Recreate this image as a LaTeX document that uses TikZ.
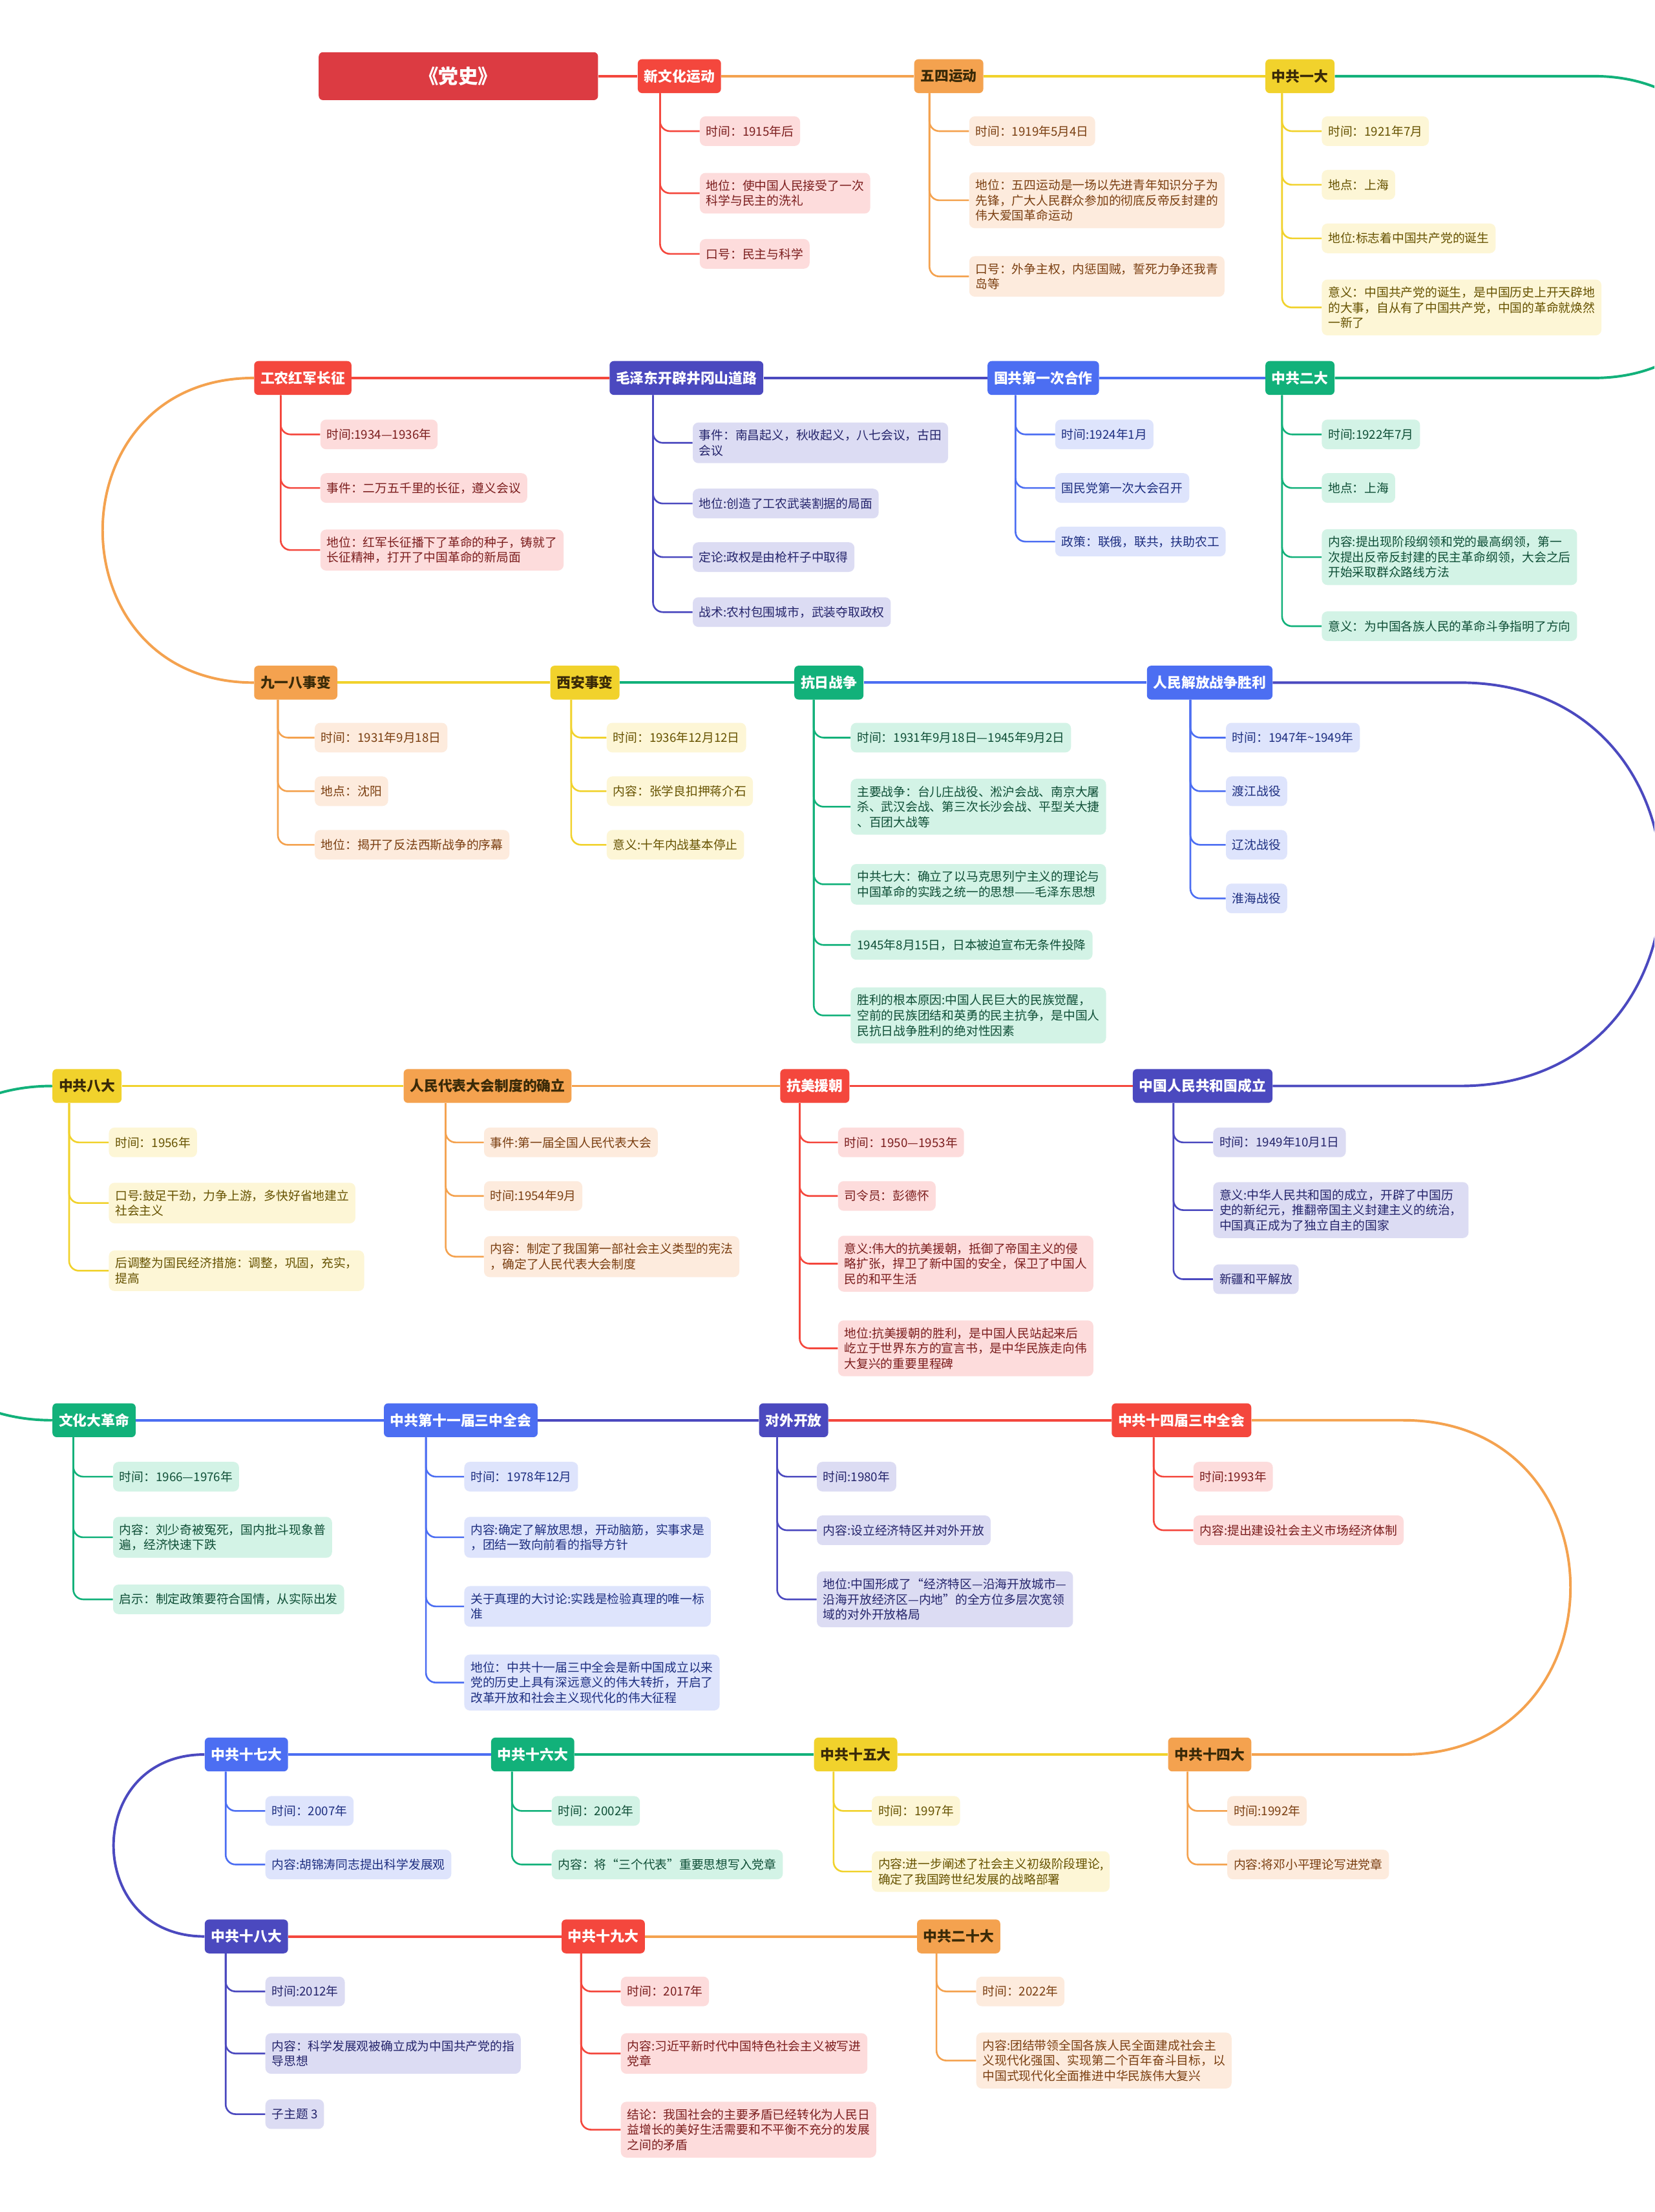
\documentclass[tikz,border=0pt]{standalone}
\usepackage{fontspec}
\setmainfont{Noto Sans CJK SC}
\usepackage{xcolor}

% colour families
\definecolor{cRoot}{HTML}{DC3B42}
\definecolor{cRed}{HTML}{F4473D}
\definecolor{cOrange}{HTML}{F4A24F}
\definecolor{cYellow}{HTML}{F1D22C}
\definecolor{cGreen}{HTML}{12B17A}
\definecolor{cBlue}{HTML}{4C6EF2}
\definecolor{cIndigo}{HTML}{4B49BF}
\definecolor{lRed}{HTML}{FDDCDC}
\definecolor{lOrange}{HTML}{FDEBDD}
\definecolor{lYellow}{HTML}{FDF6D6}
\definecolor{lGreen}{HTML}{D3F3E6}
\definecolor{lBlue}{HTML}{DEE4FC}
\definecolor{lIndigo}{HTML}{DCDCF3}
\definecolor{dRed}{HTML}{7B1D1D}
\definecolor{dOrange}{HTML}{7A3E10}
\definecolor{dYellow}{HTML}{665200}
\definecolor{dGreen}{HTML}{0E4E36}
\definecolor{dBlue}{HTML}{1D2E80}
\definecolor{dIndigo}{HTML}{24246B}
\definecolor{tDark}{HTML}{3A2A08}

\tikzset{
  rootbox/.style={rounded corners=3pt, fill=cRoot, text=white, minimum width=198pt, minimum height=34pt, font=\bfseries\fontsize{14}{16}\selectfont},
  topic/.style={rounded corners=3pt, anchor=west, minimum height=24pt, inner xsep=4.5pt, inner ysep=0pt, font=\bfseries\fontsize{10}{12}\selectfont},
  leaf/.style={rounded corners=4pt, anchor=west, align=left, inner xsep=4.5pt, inner ysep=5pt, minimum height=21pt, font=\fontsize{8.6}{10.8}\selectfont},
  link/.style={line width=1.8pt},
  twig/.style={line width=1.2pt, rounded corners=7pt},
  redT/.style={topic, fill=cRed, text=white},
  orangeT/.style={topic, fill=cOrange, text=tDark},
  yellowT/.style={topic, fill=cYellow, text=tDark},
  greenT/.style={topic, fill=cGreen, text=white},
  blueT/.style={topic, fill=cBlue, text=white},
  indigoT/.style={topic, fill=cIndigo, text=white},
  redL/.style={leaf, fill=lRed, text=dRed},
  orangeL/.style={leaf, fill=lOrange, text=dOrange},
  yellowL/.style={leaf, fill=lYellow, text=dYellow},
  greenL/.style={leaf, fill=lGreen, text=dGreen},
  blueL/.style={leaf, fill=lBlue, text=dBlue},
  indigoL/.style={leaf, fill=lIndigo, text=dIndigo}
}

\begin{document}
\begin{tikzpicture}[x=1pt, y=-1pt]
  \fill[white] (0,0) rectangle (1173,1568.4);
  \clip (0,0) rectangle (1173,1568.4);

  % Row 1
  \node[rootbox] (root) at (325,54) {《党史》};
  \node[redT] (xwh) at (452,54) {新文化运动};
  \node[orangeT] (wusi) at (648,54) {五四运动};
  \node[yellowT] (yida) at (897,54) {中共一大};

  \node[redL] (xwh-1) at (496,93) {时间：1915年后};
  \node[redL] (xwh-2) at (496,137) {地位：使中国人民接受了一次\\科学与民主的洗礼};
  \node[redL] (xwh-3) at (496,180) {口号：民主与科学};

  \node[orangeL] (wusi-1) at (687,93) {时间：1919年5月4日};
  \node[orangeL] (wusi-2) at (687,142) {地位：五四运动是一场以先进青年知识分子为\\先锋，广大人民群众参加的彻底反帝反封建的\\伟大爱国革命运动};
  \node[orangeL] (wusi-3) at (687,196) {口号：外争主权，内惩国贼，誓死力争还我青\\岛等};

  \node[yellowL] (yida-1) at (937,93) {时间：1921年7月};
  \node[yellowL] (yida-2) at (937,131) {地点：上海};
  \node[yellowL] (yida-3) at (937,169) {地位:标志着中国共产党的诞生};
  \node[yellowL] (yida-4) at (937,218) {意义：中国共产党的诞生，是中国历史上开天辟地\\的大事，自从有了中国共产党，中国的革命就焕然\\一新了};

  % Row 2
  \node[redT] (gn) at (180,268) {工农红军长征};
  \node[indigoT] (mao) at (432,268) {毛泽东开辟井冈山道路};
  \node[blueT] (gg) at (700,268) {国共第一次合作};
  \node[greenT] (erda) at (897,268) {中共二大};

  \node[redL] (gn-1) at (227,308) {时间:1934—1936年};
  \node[redL] (gn-2) at (227,346) {事件：二万五千里的长征，遵义会议};
  \node[redL] (gn-3) at (227,390) {地位：红军长征播下了革命的种子，铸就了\\长征精神，打开了中国革命的新局面};

  \node[indigoL] (mao-1) at (491,314) {事件：南昌起义，秋收起义，八七会议，古田\\会议};
  \node[indigoL] (mao-2) at (491,357) {地位:创造了工农武装割据的局面};
  \node[indigoL] (mao-3) at (491,395) {定论:政权是由枪杆子中取得};
  \node[indigoL] (mao-4) at (491,434) {战术:农村包围城市，武装夺取政权};

  \node[blueL] (gg-1) at (748,308) {时间:1924年1月};
  \node[blueL] (gg-2) at (748,346) {国民党第一次大会召开};
  \node[blueL] (gg-3) at (748,384) {政策：联俄，联共，扶助农工};

  \node[greenL] (erda-1) at (937,308) {时间:1922年7月};
  \node[greenL] (erda-2) at (937,346) {地点：上海};
  \node[greenL] (erda-3) at (937,395) {内容:提出现阶段纲领和党的最高纲领，第一\\次提出反帝反封建的民主革命纲领，大会之后\\开始采取群众路线方法};
  \node[greenL] (erda-4) at (937,444) {意义：为中国各族人民的革命斗争指明了方向};

  % Row 3
  \node[orangeT] (jyb) at (180,484) {九一八事变};
  \node[yellowT] (xian) at (390,484) {西安事变};
  \node[greenT] (kr) at (563,484) {抗日战争};
  \node[blueT] (jf) at (813,484) {人民解放战争胜利};

  \node[orangeL] (jyb-1) at (223,523) {时间：1931年9月18日};
  \node[orangeL] (jyb-2) at (223,561) {地点：沈阳};
  \node[orangeL] (jyb-3) at (223,599) {地位：揭开了反法西斯战争的序幕};

  \node[yellowL] (xian-1) at (430,523) {时间：1936年12月12日};
  \node[yellowL] (xian-2) at (430,561) {内容：张学良扣押蒋介石};
  \node[yellowL] (xian-3) at (430,599) {意义:十年内战基本停止};

  \node[greenL] (kr-1) at (603,523) {时间：1931年9月18日—1945年9月2日};
  \node[greenL] (kr-2) at (603,572) {主要战争：台儿庄战役、淞沪会战、南京大屠\\杀、武汉会战、第三次长沙会战、平型关大捷\\、百团大战等};
  \node[greenL] (kr-3) at (603,627) {中共七大：确立了以马克思列宁主义的理论与\\中国革命的实践之统一的思想——毛泽东思想};
  \node[greenL] (kr-4) at (603,670) {1945年8月15日，日本被迫宣布无条件投降};
  \node[greenL] (kr-5) at (603,720) {胜利的根本原因:中国人民巨大的民族觉醒，\\空前的民族团结和英勇的民主抗争，是中国人\\民抗日战争胜利的绝对性因素};

  \node[blueL] (jf-1) at (869,523) {时间：1947年\textasciitilde 1949年};
  \node[blueL] (jf-2) at (869,561) {渡江战役};
  \node[blueL] (jf-3) at (869,599) {辽沈战役};
  \node[blueL] (jf-4) at (869,637) {淮海战役};

  % Row 4
  \node[yellowT] (bada) at (37,770) {中共八大};
  \node[orangeT] (rd) at (286,770) {人民代表大会制度的确立};
  \node[redT] (kmyc) at (553,770) {抗美援朝};
  \node[indigoT] (jg) at (803,770) {中国人民共和国成立};

  \node[yellowL] (bada-1) at (77,810) {时间：1956年};
  \node[yellowL] (bada-2) at (77,853) {口号:鼓足干劲，力争上游，多快好省地建立\\社会主义};
  \node[yellowL] (bada-3) at (77,901) {后调整为国民经济措施：调整，巩固，充实，\\提高};

  \node[orangeL] (rd-1) at (343,810) {事件:第一届全国人民代表大会};
  \node[orangeL] (rd-2) at (343,848) {时间:1954年9月};
  \node[orangeL] (rd-3) at (343,891) {内容：制定了我国第一部社会主义类型的宪法\\，确定了人民代表大会制度};

  \node[redL] (kmyc-1) at (594,810) {时间：1950—1953年};
  \node[redL] (kmyc-2) at (594,848) {司令员：彭德怀};
  \node[redL] (kmyc-3) at (594,896) {意义:伟大的抗美援朝，抵御了帝国主义的侵\\略扩张，捍卫了新中国的安全，保卫了中国人\\民的和平生活};
  \node[redL] (kmyc-4) at (594,956) {地位:抗美援朝的胜利，是中国人民站起来后\\屹立于世界东方的宣言书，是中华民族走向伟\\大复兴的重要里程碑};

  \node[indigoL] (jg-1) at (860,810) {时间：1949年10月1日};
  \node[indigoL] (jg-2) at (860,858) {意义:中华人民共和国的成立，开辟了中国历\\史的新纪元，推翻帝国主义封建主义的统治，\\中国真正成为了独立自主的国家};
  \node[indigoL] (jg-3) at (860,907) {新疆和平解放};

  % Row 5
  \node[greenT] (wg) at (37,1007) {文化大革命};
  \node[blueT] (sj11) at (272,1007) {中共第十一届三中全会};
  \node[indigoT] (dw) at (538,1007) {对外开放};
  \node[redT] (sj14) at (788,1007) {中共十四届三中全会};

  \node[greenL] (wg-1) at (80,1047) {时间：1966—1976年};
  \node[greenL] (wg-2) at (80,1090) {内容：刘少奇被冤死，国内批斗现象普\\遍，经济快速下跌};
  \node[greenL] (wg-3) at (80,1134) {启示：制定政策要符合国情，从实际出发};

  \node[blueL] (sj11-1) at (329,1047) {时间：1978年12月};
  \node[blueL] (sj11-2) at (329,1090) {内容:确定了解放思想，开动脑筋，实事求是\\，团结一致向前看的指导方针};
  \node[blueL] (sj11-3) at (329,1139) {关于真理的大讨论:实践是检验真理的唯一标\\准};
  \node[blueL] (sj11-4) at (329,1193) {地位：中共十一届三中全会是新中国成立以来\\党的历史上具有深远意义的伟大转折，开启了\\改革开放和社会主义现代化的伟大征程};

  \node[indigoL] (dw-1) at (579,1047) {时间:1980年};
  \node[indigoL] (dw-2) at (579,1085) {内容:设立经济特区并对外开放};
  \node[indigoL] (dw-3) at (579,1134) {地位:中国形成了“经济特区—沿海开放城市—\\沿海开放经济区—内地”的全方位多层次宽领\\域的对外开放格局};

  \node[redL] (sj14-1) at (846,1047) {时间:1993年};
  \node[redL] (sj14-2) at (846,1085) {内容:提出建设社会主义市场经济体制};

  % Row 6
  \node[blueT] (d17) at (145,1244) {中共十七大};
  \node[greenT] (d16) at (348,1244) {中共十六大};
  \node[yellowT] (d15) at (577,1244) {中共十五大};
  \node[orangeT] (d14) at (828,1244) {中共十四大};

  \node[blueL] (d17-1) at (188,1284) {时间：2007年};
  \node[blueL] (d17-2) at (188,1322) {内容:胡锦涛同志提出科学发展观};

  \node[greenL] (d16-1) at (391,1284) {时间：2002年};
  \node[greenL] (d16-2) at (391,1322) {内容：将“三个代表”重要思想写入党章};

  \node[yellowL] (d15-1) at (618,1284) {时间：1997年};
  \node[yellowL] (d15-2) at (618,1327) {内容:进一步阐述了社会主义初级阶段理论,\\确定了我国跨世纪发展的战略部署};

  \node[orangeL] (d14-1) at (870,1284) {时间:1992年};
  \node[orangeL] (d14-2) at (870,1322) {内容:将邓小平理论写进党章};

  % Row 7
  \node[indigoT] (d18) at (145,1373) {中共十八大};
  \node[redT] (d19) at (398,1373) {中共十九大};
  \node[orangeT] (d20) at (650,1373) {中共二十大};

  \node[indigoL] (d18-1) at (188,1412) {时间:2012年};
  \node[indigoL] (d18-2) at (188,1456) {内容：科学发展观被确立成为中国共产党的指\\导思想};
  \node[indigoL] (d18-3) at (188,1499) {子主题 3};

  \node[redL] (d19-1) at (440,1412) {时间：2017年};
  \node[redL] (d19-2) at (440,1456) {内容:习近平新时代中国特色社会主义被写进\\党章};
  \node[redL] (d19-3) at (440,1510) {结论：我国社会的主要矛盾已经转化为人民日\\益增长的美好生活需要和不平衡不充分的发展\\之间的矛盾};

  \node[orangeL] (d20-1) at (692,1412) {时间：2022年};
  \node[orangeL] (d20-2) at (692,1461) {内容:团结带领全国各族人民全面建成社会主\\义现代化强国、实现第二个百年奋斗目标，以\\中国式现代化全面推进中华民族伟大复兴};

  % main line, straight parts
  \foreach \a/\b/\c in {root/xwh/cRed, xwh/wusi/cOrange, wusi/yida/cYellow,
      gn/mao/cRed, mao/gg/cIndigo, gg/erda/cBlue,
      jyb/xian/cYellow, xian/kr/cGreen, kr/jf/cBlue,
      bada/rd/cYellow, rd/kmyc/cOrange, kmyc/jg/cRed,
      wg/sj11/cBlue, sj11/dw/cIndigo, dw/sj14/cRed,
      d17/d16/cBlue, d16/d15/cGreen, d15/d14/cYellow,
      d18/d19/cRed, d19/d20/cOrange}
    \draw[link, \c] (\a.east) -- (\b.west);

  % main line, turns between rows
  \draw[link, cGreen] (yida.east) -- (1130,54) .. controls (1273,54) and (1273,268) .. (1130,268) -- (erda.east);
  \draw[link, cOrange] (gn.west) .. controls (37,268) and (37,484) .. (jyb.west);
  \draw[link, cIndigo] (jf.east) -- (1035,484) .. controls (1226,484) and (1226,770) .. (1035,770) -- (jg.east);
  \draw[link, cGreen] (bada.west) .. controls (-121,770) and (-121,1007) .. (wg.west);
  \draw[link, cOrange] (sj14.east) -- (995,1007) .. controls (1153,1007) and (1153,1244) .. (995,1244) -- (d14.east);
  \draw[link, cIndigo] (d17.west) .. controls (59,1244) and (59,1373) .. (d18.west);

  % branches to the leaves
  \foreach \p/\n/\s/\c in {xwh/3/16/cRed, wusi/3/11/cOrange, yida/4/12/cYellow,
      gn/3/19/cRed, mao/4/31/cIndigo, gg/3/20/cBlue, erda/4/12/cGreen,
      jyb/3/17/cOrange, xian/3/15/cYellow, kr/5/14/cGreen, jf/4/31/cBlue,
      bada/3/12/cYellow, rd/3/30/cOrange, kmyc/4/14/cRed, jg/3/29/cIndigo,
      wg/3/15/cGreen, sj11/4/30/cBlue, dw/3/13/cIndigo, sj14/2/30/cRed,
      d17/2/15/cBlue, d16/2/15/cGreen, d15/2/14/cYellow, d14/2/14/cOrange,
      d18/3/15/cIndigo, d19/3/14/cRed, d20/2/14/cOrange}
    \foreach \k in {1,...,\n}
      \draw[twig, \c] ([xshift=\s pt]\p.south west) |- (\p-\k.west);
\end{tikzpicture}
\end{document}
